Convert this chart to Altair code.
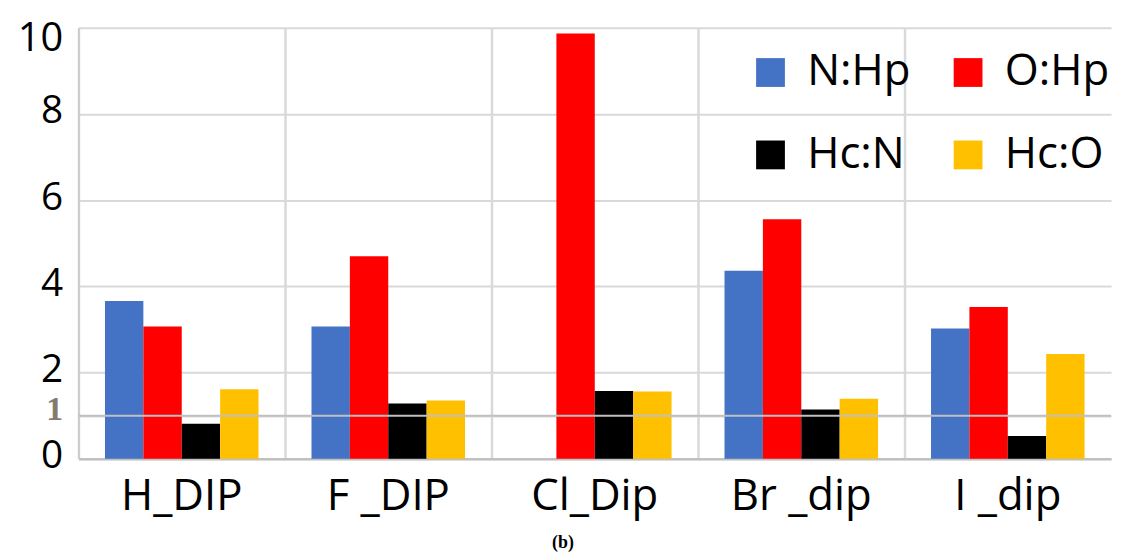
import altair as alt
import pandas as pd

categories = ["H_DIP", "F _DIP", "Cl_Dip", "Br _dip", "I _dip"]
series = ["N:Hp", "O:Hp", "Hc:N", "Hc:O"]
colors = ["#4472C4", "#FF0000", "#000000", "#FFC000"]

n_hp = [3.66, 3.07, 0.0, 4.36, 3.02]
o_hp = [3.07, 4.70, 9.87, 5.56, 3.52]
hc_n = [0.81, 1.28, 1.57, 1.14, 0.53]
hc_o = [1.61, 1.35, 1.56, 1.39, 2.43]

y_ticks = [0, 1, 2, 4, 6, 8, 10]
ref_line = [1]

rows = []
for name, vals in zip(series, [n_hp, o_hp, hc_n, hc_o]):
    for c, v in zip(categories, vals):
        rows.append({"category": c, "series": name, "value": v})
df = pd.DataFrame(rows)
ref_df = pd.DataFrame({"v": ref_line})

W, H = 1040, 434

y_axis = alt.Axis(
    values=y_ticks,
    title=None,
    ticks=False,
    grid=True,
    gridColor="#d9d9d9",
    gridWidth=2,
    domainColor="#cccccc",
    domainWidth=2,
    labelPadding=16,
    labelFont={"condition": [{"test": "datum.value == 1", "value": "Liberation Serif"}], "value": "Open Sans"},
    labelColor={"condition": [{"test": "datum.value == 1", "value": "#857a6c"}], "value": "#000000"},
    labelFontWeight={"condition": [{"test": "datum.value == 1", "value": "bold"}], "value": "normal"},
    labelFontSize={"condition": [{"test": "datum.value == 10", "value": 40},
                                 {"test": "datum.value == 1", "value": 34}], "value": 39},
    labelOffset={"condition": [{"test": "datum.value == 10", "value": 11},
                               {"test": "datum.value == 1", "value": -6}], "value": -3},
)

x_axis = alt.Axis(
    title=None,
    labelAngle=0,
    ticks=False,
    grid=True,
    bandPosition=0,
    gridColor="#d9d9d9",
    gridWidth=2.5,
    domainColor="#c0c0c0",
    domainWidth=2.5,
    labelFont="Open Sans",
    labelFontSize=44,
    labelColor="#000000",
    labelPadding=16,
)

bars = alt.Chart(df).mark_bar().encode(
    x=alt.X("category:N", sort=categories, axis=x_axis,
            scale=alt.Scale(paddingInner=0, paddingOuter=0)),
    xOffset=alt.XOffset("series:N", sort=series,
                        scale=alt.Scale(paddingInner=0, paddingOuter=0.69)),
    y=alt.Y("value:Q", axis=y_axis, scale=alt.Scale(domain=[0, 10], nice=False)),
    color=alt.Color(
        "series:N",
        sort=series,
        scale=alt.Scale(domain=series, range=colors),
        title=None,
        legend=alt.Legend(
            orient="none",
            legendX=675,
            legendY=23,
            columns=2,
            direction="horizontal",
            symbolType="square",
            symbolSize=841,
            symbolStrokeWidth=0,
            labelFont="Open Sans",
            labelFontSize=44,
            labelColor="#000000",
            labelOffset=15,
            labelLimit=0,
            columnPadding=35,
            rowPadding=39,
            padding=0,
        ),
    ),
)

rule = alt.Chart(ref_df).mark_rule(color="#c0c0c0", strokeWidth=2).encode(
    y=alt.Y("v:Q")
)

chart = alt.layer(bars, rule).properties(
    width=W,
    height=H,
    autosize=alt.AutoSizeParams(type="none"),
    padding={"left": 71, "top": 18, "right": 7, "bottom": 96},
    title=alt.TitleParams(
        "(b)",
        orient="bottom",
        font="Liberation Serif",
        fontSize=18,
        fontWeight="bold",
        color="#000000",
        dx=-32,
        offset=16,
    ),
    background="white",
).configure_view(strokeWidth=0)

chart.save("out.html", embed_options={"renderer": "svg", "actions": False})
